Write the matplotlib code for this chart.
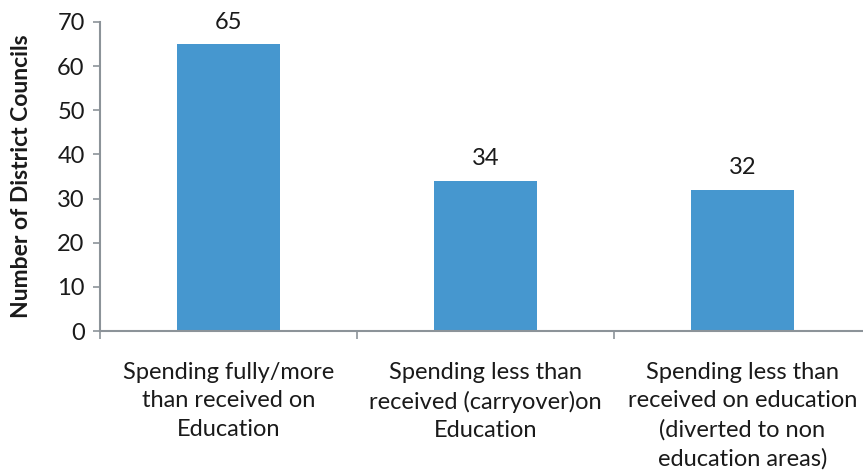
import matplotlib.pyplot as plt
import numpy as np

categories = ["Spending fully/more\nthan received on\nEducation",
              "Spending less than\nreceived (carryover)on\nEducation",
              "Spending less than\nreceived on education\n(diverted to non\neducation areas)"]
values = [65, 34, 32]
y_ticks = [0, 10, 20, 30, 40, 50, 60, 70]

plt.rcParams['font.family'] = ['Lato', 'DejaVu Sans']

fig = plt.figure(figsize=(8.63, 4.75), dpi=100)
ax = fig.add_axes([100 / 863, 1 - 331 / 475, 771 / 863, 309 / 475])

x = np.arange(len(values))
ax.bar(x, values, width=0.4, color='#4697cf')
for xi, v in zip(x, values):
    ax.text(xi, v + 2.6, str(v), ha='center', va='bottom', fontsize=17, color='#1a1a1a')

ax.set_xlim(-0.5, len(values) - 0.5)
ax.set_ylim(0, 70)
ax.set_yticks(y_ticks)
ax.tick_params(axis='y', labelsize=17, labelcolor='#1a1a1a', length=5, width=1.2, color='#8c9399', pad=6)

ax.set_xticks(np.arange(len(values) + 1) - 0.5)
ax.set_xticklabels([])
ax.set_xticks(x, minor=True)
ax.set_xticklabels(categories, minor=True, fontsize=17, color='#1a1a1a', linespacing=1.45)
ax.tick_params(axis='x', which='major', length=6, width=1.2, color='#8c9399')
ax.tick_params(axis='x', which='minor', length=0, pad=22)

ax.set_ylabel("Number of District Councils", fontsize=16.5, fontweight='bold', labelpad=18, color='#1a1a1a')

for s in ['top', 'right']:
    ax.spines[s].set_visible(False)
for s in ['left', 'bottom']:
    ax.spines[s].set_color('#8c9399')
    ax.spines[s].set_linewidth(1.5)

fig.savefig('out.png', dpi=100)
